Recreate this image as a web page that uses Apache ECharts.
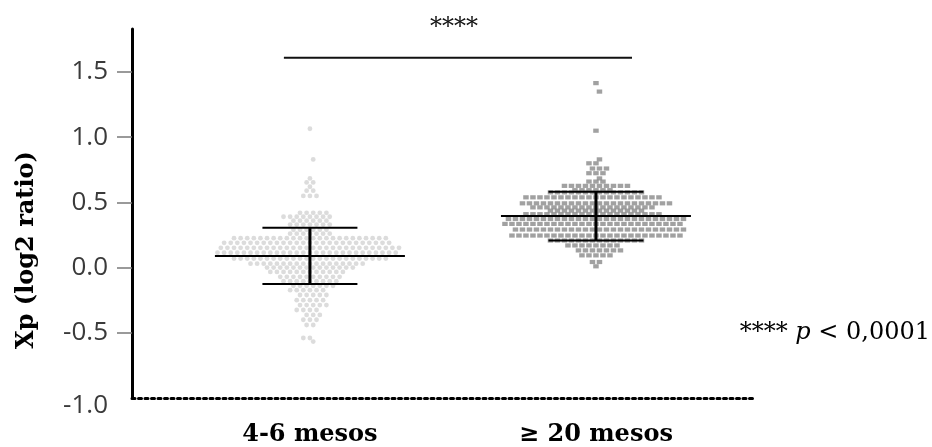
<!DOCTYPE html>
<html>
<head>
<meta charset="utf-8">
<script src="https://cdn.jsdelivr.net/npm/echarts@6/dist/echarts.min.js"></script>
<style>
  html, body { margin: 0; padding: 0; background: #fff; }
  #chart { width: 932px; height: 447px; }
</style>
</head>
<body>
<div id="chart"></div>
<script>
// Group names and where each group sits on the x scale
const groupNames = ['4-6 mesos', '≥ 20 mesos'];
const groupPos = [1, 2];

// Y tick labels
const yTickValues = [-1.0, -0.5, 0.0, 0.5, 1.0, 1.5];

// Xp values per group, as [value, number of animals at that value]
const rows46 = [
  [1.065, 1], [0.83, 1], [0.684, 1], [0.653, 2], [0.62, 1], [0.59, 2], [0.55, 3],
  [0.42, 5], [0.39, 8], [0.36, 6], [0.33, 7], [0.29, 6], [0.26, 7],
  [0.226, 24], [0.19, 26], [0.152, 28], [0.114, 28], [0.069, 24], [0.03, 18],
  [0.0, 14], [-0.033, 12], [-0.071, 10], [-0.104, 9], [-0.14, 7], [-0.173, 6],
  [-0.21, 5], [-0.25, 5], [-0.287, 5], [-0.325, 4], [-0.363, 3], [-0.40, 3],
  [-0.44, 2], [-0.54, 2], [-0.567, 1]
];
const rows20 = [
  [1.415, 1], [1.35, 1], [1.05, 1], [0.83, 1], [0.80, 2], [0.76, 3], [0.724, 3],
  [0.684, 1], [0.66, 3], [0.627, 10], [0.594, 6], [0.577, 14], [0.539, 20],
  [0.493, 22], [0.462, 18], [0.437, 14], [0.41, 20], [0.373, 26], [0.335, 26],
  [0.292, 25], [0.246, 25], [0.208, 14], [0.17, 8], [0.132, 7], [0.094, 5],
  [0.043, 2], [0.01, 1]
];

// Mean and standard deviation per group
const groupMeans = [0.09, 0.395];
const groupSDs = [0.215, 0.187];

// Significance bracket: x from, x to, level
const bracketFrom = [0.909];
const bracketTo = [2.126];
const bracketLevel = [1.61];

// Layout constants
const grid = { left: 132, right: 177, top: 29, bottom: 47 };
const xMin = 0.378, xMax = 2.556;
const pxPerX = (932 - grid.left - grid.right) / (xMax - xMin);

// Spread each row of equal values sideways, centred on the group;
// alternate rows are shifted half a step so neighbouring rows interleave
function swarm(rows, centre, pitchPx) {
  const pts = [];
  const step = pitchPx / pxPerX;
  rows.forEach(([v, n], k) => {
    const shift = (k % 2) * 0.5 * step - (n % 2 === 0 ? 0.5 * step : 0);
    for (let i = 0; i < n; i++) {
      pts.push([centre + shift + (i - Math.floor(n / 2) + (n % 2 === 0 ? 0.5 : 0)) * step, v]);
    }
  });
  return pts;
}

const chart = echarts.init(document.getElementById('chart'), null, { renderer: 'canvas' });

const serif = 'DejaVu Serif';

chart.setOption({
  animation: false,
  backgroundColor: '#ffffff',
  grid: grid,
  xAxis: {
    type: 'value',
    min: xMin,
    max: xMax,
    splitLine: { show: false },
    axisLine: { show: true, onZero: false, lineStyle: { color: '#000', width: 3, type: [3, 3.5] } },
    axisTick: { show: false },
    axisLabel: {
      customValues: groupPos,
      formatter: v => groupNames[groupPos.indexOf(v)] || '',
      margin: 25,
      fontFamily: serif,
      fontWeight: 'bold',
      fontSize: 24,
      color: '#000'
    }
  },
  yAxis: {
    type: 'value',
    min: -1.0,
    max: 1.83,
    splitLine: { show: false },
    axisLine: { show: true, onZero: false, lineStyle: { color: '#000', width: 3 } },
    axisTick: {
      show: true,
      customValues: yTickValues.filter(v => v > -1),
      length: 15,
      lineStyle: { color: '#7a7a7a', width: 1.5 }
    },
    axisLabel: {
      customValues: yTickValues,
      margin: 24,
      fontFamily: 'Open Sans',
      fontSize: 26,
      color: '#3a3a3a',
      formatter: v => v === -1 ? '{low|' + v.toFixed(1) + '}' : v.toFixed(1),
      rich: { low: { fontFamily: 'Open Sans', fontSize: 26, color: '#3a3a3a', padding: [16, 0, 0, 0] } }
    }
  },
  graphic: [
    {
      type: 'text',
      x: 27, y: 250,
      rotation: Math.PI / 2,
      style: {
        text: 'Xp (log2 ratio)',
        fontFamily: serif, fontWeight: 'bold', fontSize: 24,
        fill: '#000', align: 'center', verticalAlign: 'middle'
      }
    },
    {
      type: 'text',
      x: 930, y: 333,
      style: {
        text: '**** {it|p} < 0,0001',
        fontFamily: serif, fontSize: 24, fill: '#000',
        align: 'right', verticalAlign: 'middle',
        rich: { it: { fontFamily: serif, fontStyle: 'italic', fontSize: 24, fill: '#000' } }
      }
    }
  ],
  series: [
    {
      name: groupNames[0],
      type: 'scatter',
      symbol: 'circle',
      symbolSize: 4.8,
      itemStyle: { color: '#d3d3d3' },
      data: swarm(rows46, groupPos[0], 6.6),
      z: 2
    },
    {
      name: groupNames[1],
      type: 'scatter',
      symbol: 'rect',
      symbolSize: [5.5, 4.2],
      itemStyle: { color: '#8a8a8a' },
      data: swarm(rows20, groupPos[1], 7.0),
      z: 2
    },
    {
      // mean ± SD bars
      type: 'custom',
      z: 5,
      encode: { x: 0, y: 1 },
      data: groupPos.map((p, i) => [p, groupMeans[i], groupSDs[i]]),
      renderItem: (params, api) => {
        const x = api.value(0), m = api.value(1), s = api.value(2);
        const c = api.coord([x, m]);
        const t = api.coord([x, m + s]);
        const b = api.coord([x, m - s]);
        const st = w => ({ stroke: '#000', lineWidth: w });
        return {
          type: 'group',
          children: [
            { type: 'line', shape: { x1: c[0] - 95, y1: c[1], x2: c[0] + 95, y2: c[1] }, style: st(2) },
            { type: 'line', shape: { x1: t[0], y1: t[1], x2: b[0], y2: b[1] }, style: st(3) },
            { type: 'line', shape: { x1: t[0] - 47.5, y1: t[1], x2: t[0] + 47.5, y2: t[1] }, style: st(2) },
            { type: 'line', shape: { x1: b[0] - 47.5, y1: b[1], x2: b[0] + 47.5, y2: b[1] }, style: st(2) }
          ]
        };
      }
    },
    {
      // significance bracket
      type: 'custom',
      z: 5,
      encode: { x: [0, 1], y: 2 },
      data: bracketFrom.map((f, i) => [f, bracketTo[i], bracketLevel[i]]),
      renderItem: (params, api) => {
        const a = api.coord([api.value(0), api.value(2)]);
        const b = api.coord([api.value(1), api.value(2)]);
        return {
          type: 'group',
          children: [
            { type: 'line', shape: { x1: a[0], y1: a[1], x2: b[0], y2: b[1] }, style: { stroke: '#111', lineWidth: 2 } },
            {
              type: 'text',
              style: {
                text: '****', x: (a[0] + b[0]) / 2 - 4, y: a[1] - 30,
                align: 'center', verticalAlign: 'middle',
                fontFamily: serif, fontSize: 24, fill: '#111'
              }
            }
          ]
        };
      }
    }
  ]
});
</script>
</body>
</html>
